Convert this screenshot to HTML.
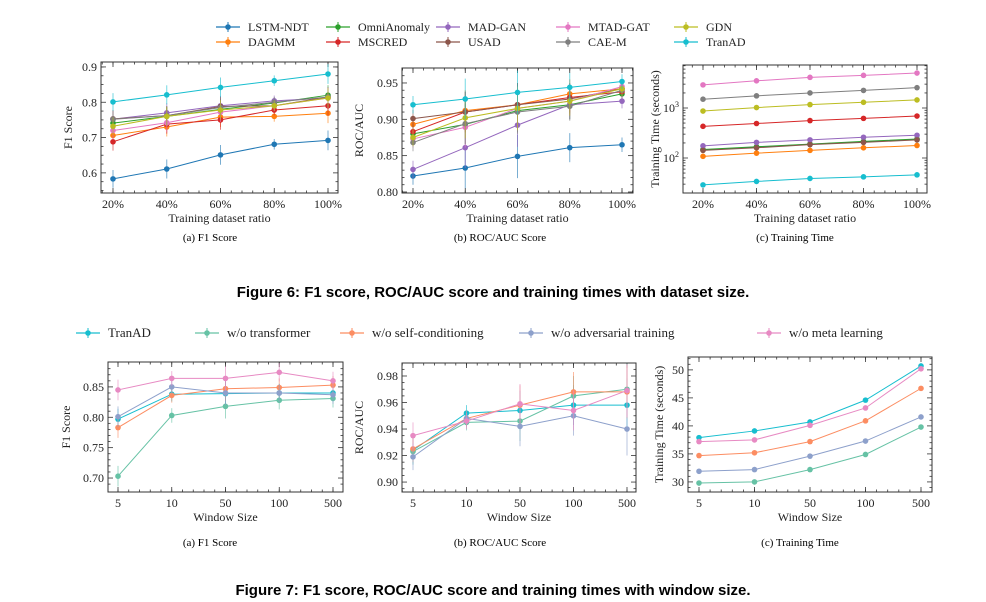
<!DOCTYPE html>
<html><head><meta charset="utf-8"><style>
body{margin:0;background:#fff}
svg{display:block;font-family:"Liberation Serif",serif}
</style></head><body>
<svg id="s" width="986" height="602" viewBox="0 0 986 602">
<g id="leg1"></g>
<g id="leg2"></g>
<g id="charts"></g>
<g font-size="11" text-anchor="middle" fill="#000">
<text x="210" y="241">(a)  F1 Score</text>
<text x="500" y="241">(b)  ROC/AUC Score</text>
<text x="795" y="241">(c)  Training Time</text>
<text x="493" y="297" font-size="15" font-weight="bold" font-family="Liberation Sans,sans-serif">Figure 6: F1 score, ROC/AUC score and training times with dataset size.</text>
<text x="210" y="546">(a)  F1 Score</text>
<text x="500" y="546">(b)  ROC/AUC Score</text>
<text x="800" y="546">(c)  Training Time</text>
<text x="493" y="595" font-size="15" font-weight="bold" font-family="Liberation Sans,sans-serif">Figure 7: F1 score, ROC/AUC score and training times with window size.</text>
</g>
</svg>
<script>
const ratioCats = ["20%","40%","60%","80%","100%"];
const windowCats = ["5","10","50","100","500"];
const topNames = ["LSTM-NDT","DAGMM","OmniAnomaly","MSCRED","MAD-GAN","USAD","MTAD-GAT","CAE-M","GDN","TranAD"];
const topColors = ["#1f77b4","#ff7f0e","#2ca02c","#d62728","#9467bd","#8c564b","#e377c2","#7f7f7f","#bcbd22","#17becf"];
const botNames = ["TranAD","w/o transformer","w/o self-conditioning","w/o adversarial training","w/o meta learning"];
const botColors = ["#17becf","#66c2a5","#fc8d62","#8da0cb","#e78ac3"];

const f1Top = [
[.583,.611,.651,.681,.692],[.706,.730,.758,.760,.769],[.741,.760,.780,.798,.820],
[.688,.738,.750,.778,.790],[.752,.770,.790,.804,.812],[.753,.762,.788,.790,.815],
[.720,.742,.772,.790,.812],[.752,.762,.785,.800,.815],[.732,.760,.778,.790,.812],
[.801,.821,.842,.861,.880]];
const f1TopErr = [.025,.027,.028,.015,.028];
const rocTop = [
[.822,.833,.849,.861,.865],[.893,.912,.920,.935,.942],[.880,.893,.912,.920,.935],
[.883,.910,.920,.930,.938],[.831,.861,.892,.920,.925],[.901,.910,.920,.928,.942],
[.873,.889,.915,.925,.945],[.868,.894,.910,.918,.940],[.875,.902,.915,.925,.942],
[.920,.928,.937,.944,.952]];
const rocTopErr = [.012,.028,.03,.02,.01];
const timeTop = [
[145,165,188,210,235],[108,125,142,160,178],[148,168,190,215,240],
[430,490,560,620,690],[175,205,230,260,285],[142,160,185,205,230],
[2900,3500,4100,4500,5000],[1500,1750,2000,2250,2550],[870,1020,1170,1300,1450],
[29,34,39,42,46]];
const timeTopErr = [.05,.05,.05,.05,.05];
const f1Bot = [
[.797,.838,.839,.840,.840],[.703,.803,.818,.828,.831],[.783,.836,.847,.849,.853],
[.801,.850,.840,.840,.837],[.845,.864,.864,.874,.860]];
const f1BotErr = [.017,.012,.02,.015,.015];
const rocBot = [
[.924,.952,.954,.958,.958],[.923,.945,.946,.965,.970],[.925,.948,.958,.968,.968],
[.919,.948,.942,.950,.940],[.935,.946,.959,.954,.969]];
const rocBotErr = [.01,.006,.015,.015,.02];
const timeBot = [
[37.9,39.1,40.7,44.6,50.7],[29.8,30.0,32.2,34.9,39.8],[34.7,35.2,37.2,40.9,46.7],
[31.9,32.2,34.6,37.3,41.6],[37.2,37.5,40.1,43.2,50.2]];
const timeBotErr = [.15,.15,.15,.15,.15];

const NS="http://www.w3.org/2000/svg";
function mk(tag,attrs,parent){const e=document.createElementNS(NS,tag);for(const k in attrs)e.setAttribute(k,attrs[k]);parent.appendChild(e);return e;}
const root=document.getElementById('charts');

function chart(c){
  const g=mk('g',{},root);
  
  
  const L=c.box[0],T=c.box[1],R=c.box[2],B=c.box[3];
  const tr=v=>c.log?Math.log10(v):v;
  const y=v=>B-(tr(v)-c.ymin)/(c.ymax-c.ymin)*(B-T);
  const n=c.cats.length;
  const x=i=>c.x0+i*(c.x1-c.x0)/(n-1);
  const tk=mk('g',{stroke:'#333','stroke-width':0.8},g);
  
  
  c.yt.forEach(v=>{const p=y(v);mk('line',{x1:L,x2:L+5,y1:p,y2:p},tk);mk('line',{x1:R,x2:R-5,y1:p,y2:p},tk);});
  c.ym.forEach(v=>{const p=y(v);if(p<T||p>B)return;mk('line',{x1:L,x2:L+2.5,y1:p,y2:p},tk);mk('line',{x1:R,x2:R-2.5,y1:p,y2:p},tk);});
  for(let i=0;i<n;i++){const p=x(i);mk('line',{x1:p,x2:p,y1:B,y2:B-5},tk);mk('line',{x1:p,x2:p,y1:T,y2:T+5},tk);}
  const step=(c.x1-c.x0)/(n-1)/5;
  for(let p=c.x0-step*5;p<R;p+=step){if(p<=L||p>=R)continue;mk('line',{x1:p,x2:p,y1:B,y2:B-2.5},tk);mk('line',{x1:p,x2:p,y1:T,y2:T+2.5},tk);}
  c.yt.forEach((v,i)=>{const t=mk('text',{x:L-4,y:y(v)+4,'font-size':12,'text-anchor':'end',fill:'#222'},g);
    
    
    if(c.log){t.textContent='10';const s=mk('tspan',{dy:-5,'font-size':8},t);s.textContent=String(Math.round(v).toString().length-1);}
    else t.textContent=c.ylab[i];});
  c.cats.forEach((s,i)=>{const t=mk('text',{x:x(i),y:B+15,'font-size':12,'text-anchor':'middle',fill:'#222'},g);
    
    
    t.textContent=s;});
  const xt=mk('text',{x:(L+R)/2,y:B+29,'font-size':12,'text-anchor':'middle',fill:'#222'},g);
  
  
  xt.textContent=c.xtitle;
  const yt=mk('text',{x:0,y:0,'font-size':12,'text-anchor':'middle',fill:'#222',transform:`translate(${c.ytx},${(T+B)/2}) rotate(-90)`},g);
  
  
  yt.textContent=c.ytitle;
  c.data.forEach((s,si)=>{
    const sg=mk('g',{},g);
    
    
    const col=c.colors[si];
    s.forEach((v,i)=>{const e=c.err[i];
      const lo=c.log?v/(1+e):v-e, hi=c.log?v*(1+e):v+e;
      const eb=mk('line',{x1:x(i),x2:x(i),y1:y(lo),y2:y(hi),stroke:col,'stroke-width':1,opacity:0.6},sg);
      
      });
    const pl=mk('polyline',{points:s.map((v,i)=>x(i)+','+y(v)).join(' '),fill:'none',stroke:col,'stroke-width':1},sg);
    
    
    s.forEach((v,i)=>{const p=mk('circle',{cx:x(i),cy:y(v),r:2.8,fill:col},sg);
      
      });
  });
  const fr=mk('rect',{x:L,y:T,width:R-L,height:B-T,fill:'none',stroke:'#333','stroke-width':1},g);
  
  
}
const timeMinor=[20,30,40,50,60,70,80,90,200,300,400,500,600,700,800,900,2000,3000,4000,5000,6000,7000];
chart({name:'f1-vs-ratio',box:[101,62,338,193],x0:113,x1:328,cats:ratioCats,ymin:.543,ymax:.914,yt:[.6,.7,.8,.9],ylab:['0.6','0.7','0.8','0.9'],ym:[.55,.575,.625,.65,.675,.725,.75,.775,.825,.85,.875,.9],data:f1Top,err:f1TopErr,colors:topColors,names:topNames,xtitle:'Training dataset ratio',ytitle:'F1 Score',ytx:72});
chart({name:'roc-vs-ratio',box:[402,68,633,193],x0:413,x1:622,cats:ratioCats,ymin:.7986,ymax:.9706,yt:[.8,.85,.9,.95],ylab:['0.80','0.85','0.90','0.95'],ym:[.81,.82,.83,.84,.86,.87,.88,.89,.91,.92,.93,.94,.96],data:rocTop,err:rocTopErr,colors:topColors,names:topNames,xtitle:'Training dataset ratio',ytitle:'ROC/AUC',ytx:363});
chart({name:'time-vs-ratio',box:[683,65,927,193],x0:703,x1:917,cats:ratioCats,log:true,ymin:1.3,ymax:3.86,yt:[100,1000],ym:timeMinor,data:timeTop,err:timeTopErr,colors:topColors,names:topNames,xtitle:'Training dataset ratio',ytitle:'Training Time (seconds)',ytx:659});
chart({name:'f1-vs-window',box:[108,362,343,492],x0:118,x1:333,cats:windowCats,ymin:.677,ymax:.891,yt:[.7,.75,.8,.85],ylab:['0.70','0.75','0.80','0.85'],ym:[.69,.71,.72,.73,.74,.76,.77,.78,.79,.81,.82,.83,.84,.86,.87,.88],data:f1Bot,err:f1BotErr,colors:botColors,names:botNames,xtitle:'Window Size',ytitle:'F1 Score',ytx:70});
chart({name:'roc-vs-window',box:[402,363,636,492],x0:413,x1:627,cats:windowCats,ymin:.8925,ymax:.9898,yt:[.9,.92,.94,.96,.98],ylab:['0.90','0.92','0.94','0.96','0.98'],ym:[.895,.905,.91,.915,.925,.93,.935,.945,.95,.955,.965,.97,.975,.985],data:rocBot,err:rocBotErr,colors:botColors,names:botNames,xtitle:'Window Size',ytitle:'ROC/AUC',ytx:363});
chart({name:'time-vs-window',box:[688,357,932,492],x0:699,x1:921,cats:windowCats,ymin:28.2,ymax:52.3,yt:[30,35,40,45,50],ylab:['30','35','40','45','50'],ym:[29,31,32,33,34,36,37,38,39,41,42,43,44,46,47,48,49,51,52],data:timeBot,err:timeBotErr,colors:botColors,names:botNames,xtitle:'Window Size',ytitle:'Training Time (seconds)',ytx:663});

function legend(id,items,cols,pos,fs){
  const g=document.getElementById(id);
  items.forEach((nm,i)=>{const p=pos[i];
    const e=mk('g',{},g);
    
    
    mk('line',{x1:p[0]-12,x2:p[0]+12,y1:p[1],y2:p[1],stroke:cols[i],'stroke-width':1.2},e);
    mk('line',{x1:p[0],x2:p[0],y1:p[1]-5,y2:p[1]+5,stroke:cols[i],'stroke-width':1},e);
    mk('circle',{cx:p[0],cy:p[1],r:2.8,fill:cols[i]},e);
    const t=mk('text',{x:p[0]+20,y:p[1]+4,'font-size':fs,fill:'#222'},e);t.textContent=nm;});
}
legend('leg1',topNames,topColors,[[228,27],[228,42],[338,27],[338,42],[448,27],[448,42],[568,27],[568,42],[686,27],[686,42]],12);
legend('leg2',botNames,botColors,[[88,333],[207,333],[352,333],[531,333],[769,333]],13);
</script>
</body></html>
